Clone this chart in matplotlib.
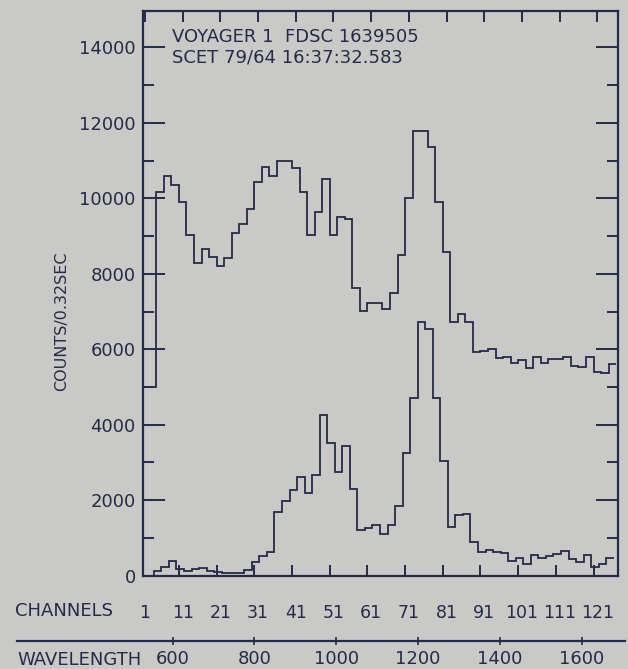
import numpy as np
import matplotlib
matplotlib.use("Agg")
import matplotlib.pyplot as plt
from matplotlib.ticker import MultipleLocator

# counts per 2-channel bin
upper_counts = [5000, 5000,
                10170, 10600, 10350, 9900, 9040, 8280, 8650, 8450, 8200, 8430,
                9070, 9320, 9710, 10420, 10840, 10600, 10990, 10990, 10790, 10170,
                9030, 9630, 10510, 9030, 9510, 9440, 7630, 7020, 7230, 7220,
                7060, 7500, 8500, 10010, 11790, 11790, 11350, 9890, 8570, 6710,
                6930, 6710, 5920, 5960, 6000, 5780, 5800, 5640, 5710, 5490,
                5790, 5640, 5730, 5750, 5790, 5560, 5520, 5790, 5410, 5360, 5610]
lower_counts = [0, 0,
                124, 238, 389, 170, 124, 177, 196, 133, 90, 80, 80, 70,
                151, 371, 522, 636, 1695, 1979, 2270, 2623, 2183, 2660,
                4257, 3523, 2755, 3436, 2289, 1211, 1256, 1343, 1097, 1343,
                1846, 3259, 4700, 6729, 6527, 4700, 3050, 1298, 1608, 1634,
                901, 636, 680, 620, 600, 397, 477, 310, 547, 459, 521,
                574, 654, 433, 371, 547, 238, 310, 459]
bin_edges = np.arange(0, 127, 2)          # channel number at bin edges
lower_offset = -0.65                       # lower trace is plotted slightly left

channel_ticks = [1, 11, 21, 31, 41, 51, 61, 71, 81, 91, 101, 111, 121]
bottom_ticks = [10, 20, 30, 40, 50, 60, 70, 80, 90, 100, 110, 120]
wavelength_ticks = [600, 800, 1000, 1200, 1400, 1600]
count_ticks = [0, 2000, 4000, 6000, 8000, 10000, 12000, 14000]

paper = "#c9cac7"
ink = "#272a45"
W, H = 628, 669
plt.rcParams["font.family"] = ["DejaVu Sans"]

fig = plt.figure(figsize=(W / 100, H / 100), dpi=100, facecolor=paper)
ax = fig.add_axes([142.7 / W, 1 - 575.7 / H, 475 / W, 565 / H], facecolor=paper)

ax.stairs(upper_counts, bin_edges, baseline=None, color=ink, lw=1.3)
ax.stairs(lower_counts, bin_edges + lower_offset, baseline=None, color=ink, lw=1.3)

ax.set_xlim(0.4, 126.4)
ax.set_ylim(0, 14970)

for s in ax.spines.values():
    s.set_linewidth(1.6)
    s.set_color(ink)

ax.set_yticks(count_ticks)
ax.yaxis.set_minor_locator(MultipleLocator(1000))
ax.tick_params(axis="y", which="major", direction="in", length=15.8, width=1.4,
               left=True, right=True, labelsize=13, colors=ink, pad=5)
ax.tick_params(axis="y", which="minor", direction="in", length=7.9, width=1.4,
               left=True, right=True, colors=ink)

ax.set_xticks(channel_ticks, [str(c) for c in channel_ticks])
ax.set_xticks(bottom_ticks, minor=True)
ax.tick_params(axis="x", which="major", direction="in", length=7.9, width=1.4,
               bottom=False, top=True, labelbottom=True, labelsize=12.5,
               colors=ink, pad=20.5)
ax.tick_params(axis="x", which="minor", direction="in", length=7.9, width=1.4,
               bottom=True, top=False, colors=ink)

ax.set_ylabel("COUNTS/0.32SEC", fontsize=11.5, color=ink)
ax.yaxis.set_label_coords(-0.155, 0.451)

fig.text(172 / W, 1 - 37 / H, "VOYAGER 1  FDSC 1639505", fontsize=13,
         color=ink, va="center", ha="left")
fig.text(172 / W, 1 - 57.5 / H, "SCET 79/64 16:37:32.583", fontsize=13,
         color=ink, va="center", ha="left")
fig.text(15 / W, 1 - 611 / H, "CHANNELS", fontsize=13, color=ink,
         va="center", ha="left")
fig.text(17 / W, 1 - 660 / H, "WAVELENGTH", fontsize=13, color=ink,
         va="center", ha="left")

# wavelength scale drawn as a flat axis below the plot
wax = fig.add_axes([17 / W, 1 - 640.7 / H, 608 / W, 0.0005], facecolor="none")
wax.set_xlim(219.3, 1705.9)
wax.set_yticks([])
for k in ("left", "right", "top"):
    wax.spines[k].set_visible(False)
wax.spines["bottom"].set_linewidth(1.6)
wax.spines["bottom"].set_color(ink)
wax.set_xticks(wavelength_ticks, [str(w) for w in wavelength_ticks])
wax.tick_params(axis="x", direction="inout", length=6, width=1.2, colors=ink,
                labelsize=13, pad=4)

fig.savefig("out.png", dpi=100, facecolor=paper)
